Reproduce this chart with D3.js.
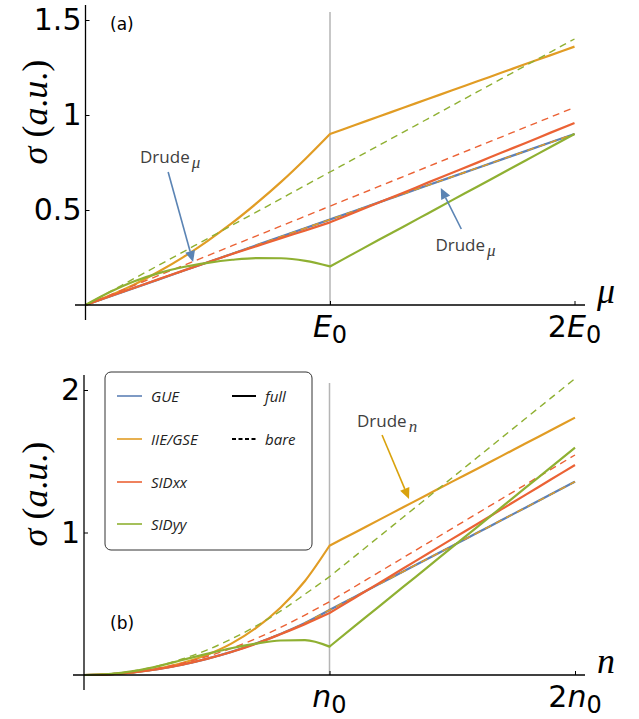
<!DOCTYPE html>
<html>
<head>
<meta charset="utf-8">
<script src="https://cdn.jsdelivr.net/npm/d3@7"></script>
<style>
  body { margin: 0; background: #fff; }
  svg { display: block; }
</style>
</head>
<body>
<svg id="chart" width="639" height="719"></svg>
<script>
// ── Data ─────────────────────────────────────────────────────────────────────
// shared x grid, in units of E0 (top) or n0 (bottom)
const X_GRID = [0, 0.1, 0.2, 0.3, 0.4, 0.5, 0.6, 0.7, 0.8, 0.9, 1.0,
                1.1, 1.2, 1.3, 1.4, 1.5, 1.6, 1.7, 1.8, 1.9, 2.0];

const SERIES = ['GUE', 'IIE/GSE', 'SIDxx', 'SIDyy'];
const COLORS = ['#5e81b5', '#e19c24', '#eb6235', '#8fb032'];

// (a) sigma vs mu
const TOP_GUE_FULL = [0, .045, .09, .135, .18, .225, .27, .315, .36, .405, .45,
                      .495, .54, .585, .63, .675, .72, .765, .81, .855, .90];
const TOP_GUE_BARE = [0, .045, .09, .135, .18, .225, .27, .315, .36, .405, .45,
                      .495, .54, .585, .63, .675, .72, .765, .81, .855, .90];
const TOP_GSE_FULL = [0, .05, .108, .176, .252, .338, .432, .536, .648, .77, .90,
                      .946, .992, 1.038, 1.084, 1.13, 1.176, 1.222, 1.268, 1.314, 1.36];
const TOP_GSE_BARE = [0, .045, .09, .135, .18, .225, .27, .315, .36, .405, .45,
                      .495, .54, .585, .63, .675, .72, .765, .81, .855, .90];
const TOP_XX_FULL  = [0, .046, .091, .136, .181, .225, .268, .31, .352, .393, .435,
                      .487, .539, .591, .644, .696, .748, .801, .853, .906, .958];
const TOP_XX_BARE  = [0, .052, .104, .156, .208, .26, .312, .364, .416, .468, .52,
                      .572, .624, .676, .728, .78, .832, .884, .936, .988, 1.04];
const TOP_YY_FULL  = [0, .068, .125, .168, .2, .222, .238, .247, .246, .232, .203,
                      .273, .343, .412, .482, .552, .621, .691, .761, .83, .90];
const TOP_YY_BARE  = [0, .07, .14, .21, .28, .35, .42, .49, .56, .63, .70,
                      .77, .84, .91, .98, 1.05, 1.12, 1.19, 1.26, 1.33, 1.40];

// (b) sigma vs n
const BOT_GUE_FULL = [0, .0045, .018, .041, .072, .113, .162, .221, .288, .365, .456,
                      .546, .636, .726, .816, .906, .996, 1.086, 1.176, 1.266, 1.357];
const BOT_GUE_BARE = [0, .0045, .018, .041, .072, .113, .162, .221, .288, .365, .456,
                      .546, .636, .726, .816, .906, .996, 1.086, 1.176, 1.266, 1.357];
const BOT_GSE_FULL = [0, .0045, .019, .044, .084, .141, .22, .329, .472, .66, .907,
                      .997, 1.087, 1.177, 1.267, 1.357, 1.446, 1.536, 1.626, 1.716, 1.806];
const BOT_GSE_BARE = [0, .0045, .018, .041, .072, .113, .162, .221, .288, .365, .456,
                      .546, .636, .726, .816, .906, .996, 1.086, 1.176, 1.266, 1.357];
const BOT_XX_FULL  = [0, .0046, .018, .041, .073, .113, .161, .219, .286, .357, .435,
                      .539, .643, .747, .851, .955, 1.058, 1.162, 1.266, 1.37, 1.474];
const BOT_XX_BARE  = [0, .0052, .021, .047, .083, .13, .187, .255, .333, .421, .514,
                      .617, .72, .823, .926, 1.029, 1.132, 1.235, 1.338, 1.441, 1.544];
const BOT_YY_FULL  = [0, .007, .027, .061, .105, .148, .188, .22, .242, .245, .199,
                      .339, .478, .618, .757, .897, 1.036, 1.176, 1.316, 1.455, 1.595];
const BOT_YY_BARE  = [0, .007, .028, .063, .112, .175, .252, .343, .448, .567, .69,
                      .829, .968, 1.107, 1.246, 1.385, 1.524, 1.663, 1.802, 1.941, 2.08];

// ticks
const TOP_Y_TICKS = [0.5, 1, 1.5];
const TOP_Y_LABELS = ['0.5', '1', '1.5'];
const BOT_Y_TICKS = [1, 2];
const BOT_Y_LABELS = ['1', '2'];
const X_TICKS = [1, 2];
const X_TICK_PREFIX = ['', '2'];

// ── Panels ───────────────────────────────────────────────────────────────────
const svg = d3.select('#chart');
const SANS = 'DejaVu Sans, sans-serif';
const SERIF = 'Liberation Serif, DejaVu Serif, serif';

const panels = [
  {
    x: d3.scaleLinear().domain([0, 2]).range([85.5, 574.5]),
    y: d3.scaleLinear().domain([0, 1.5]).range([305, 20]),
    full: [TOP_GUE_FULL, TOP_GSE_FULL, TOP_XX_FULL, TOP_YY_FULL],
    bare: [TOP_GUE_BARE, TOP_GSE_BARE, TOP_XX_BARE, TOP_YY_BARE],
    yTicks: TOP_Y_TICKS, yLabels: TOP_Y_LABELS,
    sym: 'E', varName: 'μ', tag: '(a)',
    axisTop: 5, axisBottom: 320, axisLeft: 75, axisRight: 585, refTop: 12,
    labelCy: 112, tickBase: 337, tagY: 30
  },
  {
    x: d3.scaleLinear().domain([0, 2]).range([84, 575]),
    y: d3.scaleLinear().domain([0, 2]).range([675, 390]),
    full: [BOT_GUE_FULL, BOT_GSE_FULL, BOT_XX_FULL, BOT_YY_FULL],
    bare: [BOT_GUE_BARE, BOT_GSE_BARE, BOT_XX_BARE, BOT_YY_BARE],
    yTicks: BOT_Y_TICKS, yLabels: BOT_Y_LABELS,
    sym: 'n', varName: 'n', tag: '(b)',
    axisTop: 375, axisBottom: 690, axisLeft: 73, axisRight: 585, refTop: 383,
    labelCy: 494, tickBase: 707, tagY: 629
  }
];

function drawPanel(p) {
  const g = svg.append('g');
  const y0 = p.y(0);

  // reference line at E0 / n0
  g.append('line')
    .attr('x1', p.x(1)).attr('x2', p.x(1))
    .attr('y1', p.refTop).attr('y2', y0)
    .attr('stroke', '#b5b5b5').attr('stroke-width', 1.5);

  // curves, each split at x = 1 so the kink stays sharp
  const line = d3.line()
    .x(d => p.x(d[0])).y(d => p.y(d[1]))
    .curve(d3.curveMonotoneX);
  const k = X_GRID.indexOf(1);
  const pathOf = vals => {
    const pts = X_GRID.map((x, i) => [x, vals[i]]);
    return line(pts.slice(0, k + 1)) + line(pts.slice(k)).replace(/^M/, 'L');
  };

  SERIES.forEach((_, i) => {
    g.append('path')
      .attr('d', pathOf(p.full[i]))
      .attr('fill', 'none')
      .attr('stroke', COLORS[i])
      .attr('stroke-width', 2.2)
      .attr('stroke-linejoin', 'round');
    g.append('path')
      .attr('d', pathOf(p.bare[i]))
      .attr('fill', 'none')
      .attr('stroke', COLORS[i])
      .attr('stroke-width', 1.4)
      .attr('stroke-dasharray', '7,5');
  });

  // axis lines (extend a little past the origin)
  g.append('line')
    .attr('x1', p.x(0)).attr('x2', p.x(0))
    .attr('y1', p.axisTop).attr('y2', p.axisBottom)
    .attr('stroke', '#000').attr('stroke-width', 1.3);
  g.append('line')
    .attr('x1', p.axisLeft).attr('x2', p.axisRight)
    .attr('y1', y0).attr('y2', y0)
    .attr('stroke', '#000').attr('stroke-width', 1.3);

  // y ticks
  g.append('g')
    .attr('transform', `translate(${p.x(0)},0)`)
    .call(d3.axisLeft(p.y)
      .tickValues(p.yTicks)
      .tickFormat((d, i) => p.yLabels[i])
      .tickSizeInner(-4).tickSizeOuter(0).tickPadding(4))
    .call(a => a.select('.domain').remove())
    .call(a => a.selectAll('text')
      .attr('font-family', SANS).attr('font-size', 30).attr('fill', '#000'));

  // x ticks
  g.append('g')
    .attr('transform', `translate(0,${y0})`)
    .call(d3.axisBottom(p.x)
      .tickValues(X_TICKS).tickFormat('')
      .tickSizeInner(-4).tickSizeOuter(0))
    .call(a => a.select('.domain').remove());

  X_TICKS.forEach((v, i) => {
    const t = g.append('text')
      .attr('x', p.x(v)).attr('y', p.tickBase)
      .attr('text-anchor', 'middle')
      .attr('font-family', SANS).attr('font-size', 30).attr('fill', '#000');
    if (X_TICK_PREFIX[i]) t.append('tspan').text(X_TICK_PREFIX[i]);
    t.append('tspan').attr('font-style', 'italic').text(p.sym);
    t.append('tspan').attr('font-size', 24).attr('dy', 6).text('0');
  });

  // axis variable
  g.append('text')
    .attr('x', 597).attr('y', y0 - 2)
    .attr('font-family', SERIF).attr('font-style', 'italic')
    .attr('font-size', 36).text(p.varName);

  // y label: sigma (a.u.)
  const yl = g.append('text')
    .attr('transform', `translate(47,${p.labelCy}) rotate(-90)`)
    .attr('text-anchor', 'middle')
    .attr('font-family', SERIF).attr('font-size', 36);
  yl.append('tspan').attr('font-style', 'italic').text('σ');
  yl.append('tspan').text(' (');
  yl.append('tspan').attr('font-style', 'italic').text('a');
  yl.append('tspan').text('.');
  yl.append('tspan').attr('font-style', 'italic').text('u');
  yl.append('tspan').text('.)');

  // panel tag
  g.append('text')
    .attr('x', 110).attr('y', p.tagY)
    .attr('font-family', SANS).attr('font-size', 17)
    .text(p.tag);
}

panels.forEach(drawPanel);

// ── Drude annotations ────────────────────────────────────────────────────────
function annotate(p, from, to, color, sub, textAt) {
  const x1 = p.x(from[0]), y1 = p.y(from[1]);
  const x2 = p.x(to[0]), y2 = p.y(to[1]);
  const ang = Math.atan2(y2 - y1, x2 - x1);
  const L = 11, W = 5;
  const bx = x2 - L * Math.cos(ang), by = y2 - L * Math.sin(ang);
  svg.append('line')
    .attr('x1', x1).attr('y1', y1).attr('x2', bx).attr('y2', by)
    .attr('stroke', color).attr('stroke-width', 1.6);
  svg.append('path')
    .attr('d', `M${x2},${y2}L${bx + W * Math.sin(ang)},${by - W * Math.cos(ang)}` +
               `L${bx - W * Math.sin(ang)},${by + W * Math.cos(ang)}Z`)
    .attr('fill', color);
  const t = svg.append('text')
    .attr('x', p.x(textAt[0])).attr('y', p.y(textAt[1]))
    .attr('font-family', 'Open Sans, sans-serif').attr('font-size', 17)
    .attr('fill', '#404040');
  t.append('tspan').text('Drude');
  t.append('tspan').attr('dx', 2).attr('dy', 5)
    .attr('font-family', SERIF).attr('font-style', 'italic').attr('font-size', 17)
    .text(sub);
}

annotate(panels[0], [0.338, 0.70], [0.44, 0.226], '#5b84b4', 'μ', [0.223, 0.747]);
annotate(panels[0], [1.537, 0.40], [1.453, 0.616], '#5b84b4', 'μ', [1.431, 0.284]);
annotate(panels[1], [1.214, 1.684], [1.324, 1.235], '#d9a20c', 'n', [1.112, 1.74]);

// ── Legend ───────────────────────────────────────────────────────────────────
const leg = svg.append('g');
leg.append('rect')
  .attr('x', 105).attr('y', 372).attr('width', 207).attr('height', 178)
  .attr('rx', 6).attr('ry', 6)
  .attr('fill', '#fff').attr('stroke', '#333').attr('stroke-width', 1);

const ROW_Y = [396, 439, 482, 524];
SERIES.forEach((name, i) => {
  leg.append('line')
    .attr('x1', 117).attr('x2', 142).attr('y1', ROW_Y[i]).attr('y2', ROW_Y[i])
    .attr('stroke', COLORS[i]).attr('stroke-width', 1.6);
  leg.append('text')
    .attr('x', 151).attr('y', ROW_Y[i] + 6)
    .attr('font-family', 'Open Sans, sans-serif').attr('font-style', 'italic')
    .attr('font-size', 15).attr('fill', '#222')
    .text(name);
});

const STYLE_NAMES = ['full', 'bare'];
const STYLE_DASH = [null, '4,2.5'];
STYLE_NAMES.forEach((name, i) => {
  leg.append('line')
    .attr('x1', 232).attr('x2', 256).attr('y1', ROW_Y[i]).attr('y2', ROW_Y[i])
    .attr('stroke', '#000').attr('stroke-width', 2)
    .attr('stroke-dasharray', STYLE_DASH[i]);
  leg.append('text')
    .attr('x', 265).attr('y', ROW_Y[i] + 6)
    .attr('font-family', 'Open Sans, sans-serif').attr('font-style', 'italic')
    .attr('font-size', 15).attr('fill', '#222')
    .text(name);
});
</script>
</body>
</html>
